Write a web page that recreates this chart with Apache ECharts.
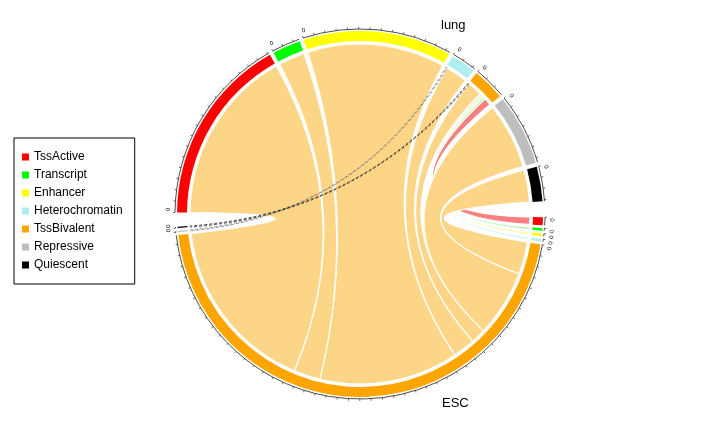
<!DOCTYPE html>
<html><head><meta charset="utf-8">
<script src="https://cdn.jsdelivr.net/npm/echarts@6/dist/echarts.min.js"></script>
<style>html,body{margin:0;background:#fff}#c{width:720px;height:432px}</style>
</head><body><div id="c"></div>
<script>
var states = ['TssActive', 'Transcript', 'Enhancer', 'Heterochromatin', 'TssBivalent', 'Repressive', 'Quiescent'];
var colors = ['#FF0000', '#00FF00', '#FFFF00', '#AFEEEE', '#FFA500', '#BEBEBE', '#000000'];
var chordColors = ['#F88080', '#A0F0A0', '#FFFF80', '#C8F4F4', '#FDD587', '#777777', '#222222'];
// flows[esc][lung]
var flows = [
    [0, 0, 0, 0, 2.5, 0, 0],
    [0, 0, 0, 0, 0.8, 0, 0],
    [0, 0, 0, 0, 0.8, 0, 0],
    [0, 0, 0, 0, 0.8, 0, 0],
    [60, 9, 47, 7.5, 5, 22.5, 11],
    [0, 0, 0, 0.4, 0, 0, 0],
    [0, 0, 0, 0, 0.4, 0, 0]
];

var cx = 360, cy = 214, rIn = 173, rOut = 183, rChord = 170;
var D = Math.PI / 180;

function layout(sizes, from, to, gap) {
    var tot = sizes.reduce(function (a, b) { return a + b; }, 0);
    var k = (from - to - gap * (sizes.length - 1)) / tot;
    var out = [], a = from;
    sizes.forEach(function (s) { out.push([a, a - s * k]); a -= s * k + gap; });
    return out;
}
var lungSizes = states.map(function (s, j) { var t = 0; flows.forEach(function (r) { t += r[j]; }); return t; });
var escSizes = flows.map(function (r) { return r.reduce(function (a, b) { return a + b; }, 0); });
var lung = layout(lungSizes, 179.5, 4, 1.3);
var esc = layout(escSizes, -1, -176, 0.9);

function P(a, r) { return [cx + r * Math.cos(a * D), cy - r * Math.sin(a * D)]; }
function arc(a1, a2, r) {
    var p = P(a2, r), large = (a1 - a2) > 180 ? 1 : 0;
    return 'A' + r + ' ' + r + ' 0 ' + large + ' 1 ' + p[0] + ' ' + p[1];
}

// chord segments
var escPos = esc.map(function (s) { return s[0]; });
var lungPos = lung.map(function (s) { return s[0]; });
var escK = (esc[4][0] - esc[4][1]) / escSizes[4];
var lungK = (lung[0][0] - lung[0][1]) / lungSizes[0];
var chords = [];
flows.forEach(function (row, i) {
    for (var j = 6; j >= 0; j--) {
        if (!row[j]) continue;
        var e1 = escPos[i], e2 = e1 - row[j] * escK; escPos[i] = e2;
        chords.push({ i: i, j: j, e1: e1, e2: e2 });
    }
});
for (var j = 0; j < 7; j++) {
    for (var i = 6; i >= 0; i--) {
        chords.forEach(function (c) {
            if (c.i === i && c.j === j) {
                c.l1 = lungPos[j]; c.l2 = c.l1 - flows[i][j] * lungK; lungPos[j] = c.l2;
            }
        });
    }
}

function chordPath(c) {
    var a = P(c.e1, rChord), b = P(c.l1, rChord);
    return 'M' + a[0] + ' ' + a[1] + arc(c.e1, c.e2, rChord) +
        'Q' + cx + ' ' + cy + ' ' + b[0] + ' ' + b[1] + arc(c.l1, c.l2, rChord) +
        'Q' + cx + ' ' + cy + ' ' + a[0] + ' ' + a[1] + 'Z';
}

function sectorItems(idx) {
    var kids = [];
    [lung[idx], esc[idx]].forEach(function (s) {
        kids.push({ type: 'sector', shape: { cx: cx, cy: cy, r0: rIn, r: rOut, startAngle: -s[0] * D, endAngle: -s[1] * D, clockwise: true },
            style: { fill: colors[idx], stroke: null } });
        var o = P(s[0], rOut + 2);
        kids.push({ type: 'path', shape: { pathData: 'M' + o[0] + ' ' + o[1] + arc(s[0], s[1], rOut + 2) }, style: { fill: null, stroke: '#000', lineWidth: 0.7 } });
        for (var a = s[0]; a >= s[1]; a -= 3.5) {
            var p1 = P(a, rOut + 2), p2 = P(a, rOut + 4);
            kids.push({ type: 'line', shape: { x1: p1[0], y1: p1[1], x2: p2[0], y2: p2[1] }, style: { stroke: '#000', lineWidth: 0.6 } });
        }
        var lp = P(s[0] - 0.8, rOut + 9);
        kids.push({ type: 'text', x: lp[0], y: lp[1], rotation: (s[0] - 0.8 - 90) * D,
            style: { text: '0', fontSize: 6, fill: '#000', align: 'center', verticalAlign: 'middle' } });
    });
    return { type: 'group', children: kids };
}

var series = states.map(function (name, idx) {
    return { type: 'custom', name: name, coordinateSystem: 'none', color: colors[idx], data: [0], silent: true,
        renderItem: function () { return sectorItems(idx); } };
});
series.unshift({ type: 'custom', coordinateSystem: 'none', data: chords.map(function (c, k) { return k; }), silent: true,
    renderItem: function (params, api) {
        var c = chords[api.value(0)];
        var thin = c.i === 5 || c.i === 6;
        return { type: 'path', shape: { pathData: chordPath(c) },
            style: thin ? { fill: null, stroke: chordColors[c.i], lineWidth: 0.8, lineDash: [3, 2] }
                : { fill: chordColors[c.i], stroke: '#fff', lineWidth: 1.2 } };
    } });

var chart = echarts.init(document.getElementById('c'), null, { renderer: 'canvas' });
chart.setOption({
    animation: false,
    textStyle: { fontFamily: 'Liberation Sans' },
    legend: { data: states, orient: 'vertical', left: 14, top: 138, selectedMode: false,
        icon: 'rect', itemWidth: 7, itemHeight: 7, itemGap: 6, padding: [13, 12, 13, 8],
        borderColor: '#000', borderWidth: 1, borderRadius: 0, textStyle: { fontSize: 12, color: '#000' } },
    graphic: [
        { type: 'text', left: 441, top: 19, style: { text: 'lung', fontSize: 13, fill: '#000' } },
        { type: 'text', left: 442, top: 397, style: { text: 'ESC', fontSize: 13, fill: '#000' } }
    ],
    series: series
});
</script></body></html>
